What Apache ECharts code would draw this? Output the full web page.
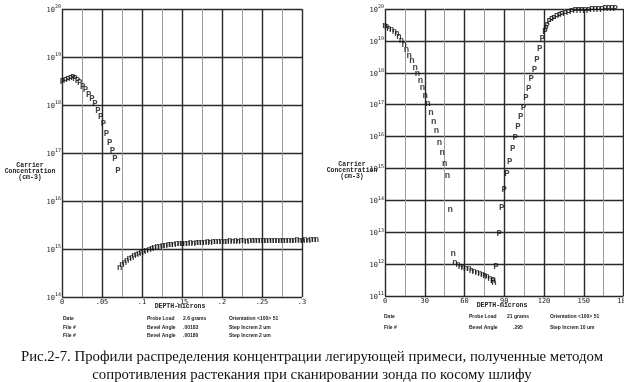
<!DOCTYPE html>
<html><head><meta charset="utf-8">
<script src="https://cdn.jsdelivr.net/npm/echarts@6/dist/echarts.min.js"></script>
<style>html,body{margin:0;padding:0;background:#fff}#c{width:624px;height:382px}</style>
</head><body><div id="c"></div>
<script>
// ---- tick labels ----
const leftXTicks = ['0', '.05', '.1', '.15', '.2', '.25', '.3'];
const rightXTicks = ['0', '30', '60', '90', '120', '150', '180'];

// ---- left profile (depth in microns, log10 concentration) ----
const leftP_x = [0.0005, 0.0043, 0.0075, 0.0109, 0.0138, 0.0163, 0.0193, 0.0221, 0.0259, 0.0293, 0.0334, 0.0375, 0.0413, 0.045, 0.0484, 0.0518, 0.0555, 0.0596, 0.063, 0.0663, 0.07];
const leftP_log = [18.49, 18.51, 18.53, 18.55, 18.56, 18.54, 18.51, 18.47, 18.38, 18.32, 18.21, 18.14, 18.02, 17.88, 17.76, 17.61, 17.40, 17.21, 17.05, 16.89, 16.64];

const leftN_x = [0.072, 0.075, 0.078, 0.081, 0.084, 0.087, 0.090, 0.093, 0.096, 0.099, 0.102, 0.105, 0.109, 0.112, 0.115, 0.119, 0.122, 0.126, 0.129, 0.133, 0.136, 0.140, 0.143, 0.147, 0.150, 0.154, 0.157, 0.161, 0.164, 0.168, 0.171, 0.175, 0.178, 0.182, 0.185, 0.189, 0.192, 0.196, 0.199, 0.203, 0.206, 0.210, 0.213, 0.217, 0.220, 0.224, 0.227, 0.231, 0.234, 0.238, 0.241, 0.245, 0.248, 0.252, 0.255, 0.259, 0.262, 0.266, 0.269, 0.273, 0.276, 0.280, 0.283, 0.287, 0.290, 0.294, 0.297, 0.301, 0.304, 0.308, 0.311, 0.315, 0.318];
const leftN_log = [14.62, 14.67, 14.71, 14.75, 14.79, 14.82, 14.85, 14.88, 14.90, 14.93, 14.95, 14.97, 14.99, 15.01, 15.02, 15.04, 15.05, 15.06, 15.07, 15.08, 15.09, 15.09, 15.10, 15.11, 15.11, 15.12, 15.12, 15.13, 15.12, 15.13, 15.14, 15.13, 15.14, 15.15, 15.14, 15.15, 15.15, 15.16, 15.15, 15.16, 15.16, 15.17, 15.16, 15.17, 15.16, 15.17, 15.17, 15.16, 15.17, 15.17, 15.18, 15.17, 15.17, 15.18, 15.17, 15.18, 15.17, 15.17, 15.18, 15.17, 15.18, 15.18, 15.17, 15.18, 15.18, 15.19, 15.18, 15.18, 15.19, 15.18, 15.19, 15.19, 15.19];

// ---- right profile (depth in microns, log10 concentration) ----
const rightN_x = [0, 1.3, 3.0, 5.1, 7.1, 9.1, 10.6, 12.4, 14.4, 16.2, 18.2, 20.4, 22.7, 24.5, 26.8, 28.3, 30.3, 32.5, 34.6, 36.8, 38.9, 41.1, 43.1, 45.1, 47.2, 49.2, 51.4, 52.7, 55.2, 57.0, 59.0, 61.0, 63.5, 65.3, 67.3, 69.6, 71.6, 73.7, 75.4, 77.1, 79.2, 81.2, 82.2];
const rightN_log = [19.48, 19.43, 19.39, 19.35, 19.30, 19.22, 19.14, 19.00, 18.87, 18.71, 18.53, 18.37, 18.16, 17.96, 17.74, 17.54, 17.29, 17.04, 16.74, 16.46, 16.19, 15.82, 15.50, 15.16, 14.77, 13.70, 12.33, 12.03, 11.97, 11.92, 11.89, 11.86, 11.84, 11.79, 11.76, 11.73, 11.71, 11.67, 11.64, 11.60, 11.55, 11.47, 11.41];

const rightP_x = [81.7, 83.7, 86.2, 88.0, 90.0, 92.0, 94.1, 96.4, 98.3, 100.4, 102.4, 104.4, 106.4, 108.5, 110.4, 112.7, 114.7, 116.8, 118.7, 120.8, 121.5, 122.5, 124.0, 125.9, 127.6, 129.6, 131.6, 133.4, 135.9, 138.4, 141.0, 143.5, 146.0, 148.5, 151.0, 153.5, 156.1, 158.6, 161.1, 163.7, 166.2, 168.7, 171.2, 173.7];
const rightP_log = [11.48, 11.92, 12.94, 13.77, 14.33, 14.82, 15.22, 15.61, 15.97, 16.30, 16.61, 16.91, 17.21, 17.51, 17.80, 18.09, 18.40, 18.76, 19.06, 19.28, 19.38, 19.49, 19.59, 19.66, 19.70, 19.75, 19.79, 19.82, 19.85, 19.88, 19.92, 19.94, 19.95, 19.96, 19.96, 19.96, 19.97, 19.97, 19.98, 19.99, 20.02, 20.02, 20.02, 20.02];

// ---- texts ----
const yTitle = 'Carrier\nConcentration\n(cm-3)';
const xTitle = 'DEPTH-microns';
const infoLeft = [
  ['Date', 'Probe Load', '2.6 grams', 'Orientation <100> 51'],
  ['File #', 'Bevel Angle', '.00183', 'Step Increm 2 um'],
  ['File #', 'Bevel Angle', '.00180', 'Step Increm 2 um']
];
const infoRight = [
  ['Date', 'Probe Load', '21 grams', 'Orientation <100> 51'],
  ['File #', 'Bevel Angle', '.295', 'Step Increm 10 um']
];
const caption = [
  'Рис.2-7. Профили распределения концентрации легирующей примеси, полученные методом',
  'сопротивления растекания при сканировании зонда по косому шлифу'
];

// ---- build ----
const toData = (xs, ls) => xs.map((x, i) => [x, Math.pow(10, ls[i])]);
const markFont = 'Liberation Mono';
function markSeries(xi, yi, data, ch) {
  return {
    type: 'scatter', xAxisIndex: xi, yAxisIndex: yi, data: data,
    symbol: 'circle', symbolSize: 1, itemStyle: { color: 'rgba(0,0,0,0)' },
    clip: false, silent: true, animation: false,
    label: { show: true, position: 'inside', formatter: ch, color: '#111',
      fontFamily: markFont, fontWeight: 'bold', fontSize: 9 }
  };
}
const gridLine = '#2a2a2a', minorLine = '#9a9a9a';
function yAxis(gi, min, max) {
  return {
    type: 'log', logBase: 10, gridIndex: gi, min: min, max: max,
    axisLine: { show: false }, axisTick: { show: false },
    splitLine: { show: true, lineStyle: { color: gridLine, width: 1.4 } },
    axisLabel: {
      margin: 1, verticalAlign: 'middle', color: '#222', lineHeight: 9,
      formatter: v => '{b|10}{s|' + Math.round(Math.log10(v)) + '}',
      rich: {
        b: { fontFamily: 'DejaVu Sans Mono', fontSize: 7, color: '#222', verticalAlign: 'bottom', lineHeight: 9 },
        s: { fontFamily: 'DejaVu Sans Mono', fontSize: 5, color: '#222', verticalAlign: 'top', lineHeight: 9 }
      }
    }
  };
}
function xMinor(gi, max, iv) {
  return { type: 'value', gridIndex: gi, min: 0, max: max, interval: iv, position: 'top',
    axisLine: { show: false }, axisTick: { show: false }, axisLabel: { show: false },
    splitLine: { show: true, lineStyle: { color: minorLine, width: 1 } } };
}
function xMajor(gi, max, iv, labels) {
  return { type: 'value', gridIndex: gi, min: 0, max: max, interval: iv, position: 'bottom',
    axisLine: { show: false }, axisTick: { show: false },
    splitLine: { show: true, lineStyle: { color: gridLine, width: 1.4 } },
    axisLabel: { margin: 2, color: '#222', fontFamily: 'DejaVu Sans Mono', fontSize: 7,
      formatter: v => labels[Math.round(v / iv)] } };
}

const graphics = [];
const txt = (x, y, text, font, align, extra) => graphics.push(Object.assign({
  type: 'text', x: x, y: y, silent: true,
  style: Object.assign({ text: text, font: font, fill: '#222', textAlign: align, align: align,
    textVerticalAlign: 'middle', verticalAlign: 'middle' }, extra || {})
}));
const titleFont = 'bold 6.5px "Liberation Mono"';
txt(30, 171, yTitle, titleFont, 'center', { lineHeight: 6 });
txt(352, 170, yTitle, titleFont, 'center', { lineHeight: 6 });
txt(180, 306, xTitle, titleFont, 'center');
txt(502, 305, xTitle, titleFont, 'center');
const infoFont = 'bold 5px "Liberation Sans"';
const colL = [63, 147, 183, 229], rowL = [319, 328, 336];
infoLeft.forEach((r, i) => r.forEach((t, j) => txt(colL[j], rowL[i], t, infoFont, 'left')));
const colR = [384, 469, 507, 550], rowR = [317, 327.5];
infoRight.forEach((r, i) => r.forEach((t, j) => txt(colR[j] + (j === 2 && i === 1 ? 6 : 0), rowR[i], t, infoFont, 'left')));
txt(312, 357, caption[0], '14.8px "Liberation Serif"', 'center', { fill: '#111' });
txt(312, 375, caption[1], '14.8px "Liberation Serif"', 'center', { fill: '#111' });

const chart = echarts.init(document.getElementById('c'), null, { renderer: 'canvas' });
chart.setOption({
  backgroundColor: '#fff',
  animation: false,
  grid: [
    { left: 62, top: 9, width: 240, height: 288, outerBoundsMode: 'none', containLabel: false },
    { left: 385, top: 9, width: 238.5, height: 287, outerBoundsMode: 'none', containLabel: false }
  ],
  xAxis: [
    xMinor(0, 0.3, 0.025), xMajor(0, 0.3, 0.05, leftXTicks),
    xMinor(1, 180, 15), xMajor(1, 180, 30, rightXTicks)
  ],
  yAxis: [ yAxis(0, 1e14, 1e20), yAxis(1, 1e11, 1e20) ],
  series: [
    markSeries(1, 0, toData(leftP_x, leftP_log), 'P'),
    markSeries(1, 0, toData(leftN_x, leftN_log), 'n'),
    markSeries(3, 1, toData(rightN_x, rightN_log), 'n'),
    markSeries(3, 1, toData(rightP_x, rightP_log), 'P')
  ],
  graphic: graphics
});
</script></body></html>
